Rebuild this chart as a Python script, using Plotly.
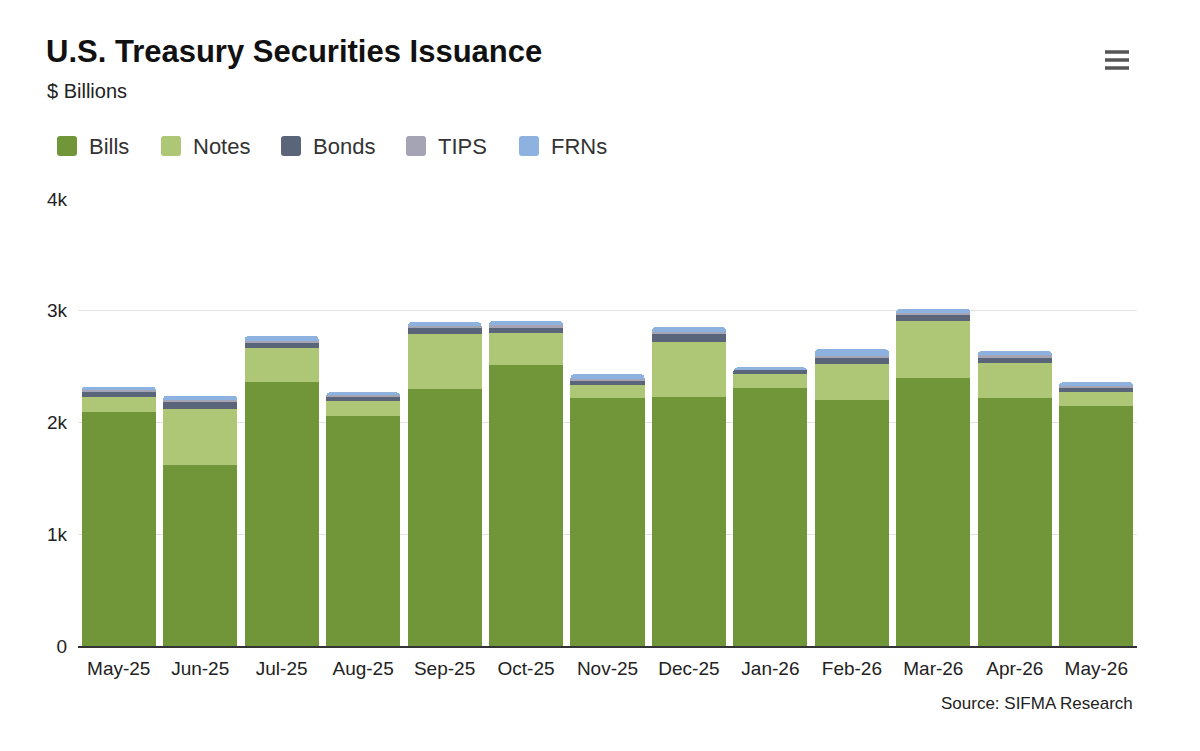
import plotly.graph_objects as go

months = ['May-25', 'Jun-25', 'Jul-25', 'Aug-25', 'Sep-25', 'Oct-25', 'Nov-25',
          'Dec-25', 'Jan-26', 'Feb-26', 'Mar-26', 'Apr-26', 'May-26']

# $ billions
bills = [2097, 1620, 2362, 2058, 2297, 2512, 2216, 2228, 2306, 2201, 2401, 2216, 2150]
notes = [134, 501, 307, 134, 492, 292, 119, 492, 125, 322, 507, 319, 123]
bonds = [45, 60, 39, 39, 59, 45, 36, 69, 39, 51, 54, 45, 33]
tips = [15, 19, 20, 14, 16, 20, 20, 20, 8, 21, 18, 20, 18]
frns = [30, 40, 45, 25, 32, 40, 40, 45, 16, 60, 36, 40, 36]

names = ['Bills', 'Notes', 'Bonds', 'TIPS', 'FRNs']
colors = ['#719639', '#adc776', '#5a6579', '#a4a4b5', '#8db2e0']
values = [bills, notes, bonds, tips, frns]

fig = go.Figure()
for name, vals, col in zip(names, values, colors):
    fig.add_trace(go.Bar(x=months, y=vals, name=name, showlegend=False,
                         marker=dict(color=col, line=dict(width=0))))

font = 'Liberation Sans, Arial, sans-serif'

# page has an 8px body margin, so the figure is 16px smaller than the window
W, H = 1184, 735
L, R, T, B = 70, 55, 191, 97
pw, ph = W - L - R, H - T - B


def px(x):  # window x -> paper x
    return (x - 8 - L) / pw


def py(y):  # window y -> paper y
    return (H - B - (y - 8)) / ph


annotations = [
    dict(text='<b>U.S. Treasury Securities Issuance</b>', x=px(44), y=py(51),
         font=dict(size=31, color='#111111')),
    dict(text='$ Billions', x=px(45), y=py(91), font=dict(size=20, color='#222222')),
]

shapes = []
# legend: rounded squares + labels
leg_x = [57, 161, 281, 406, 519]
rounded = ('M -7,-10 L 7,-10 Q 10,-10 10,-7 L 10,7 Q 10,10 7,10 L -7,10 '
           'Q -10,10 -10,7 L -10,-7 Q -10,-10 -7,-10 Z')
for name, col, lx in zip(names, colors, leg_x):
    shapes.append(dict(type='path', path=rounded, xref='paper', yref='paper',
                       xsizemode='pixel', ysizemode='pixel', xanchor=px(lx + 10), yanchor=py(146),
                       fillcolor=col, line=dict(width=0)))
    annotations.append(dict(text=name, x=px(lx + 30), y=py(146),
                            font=dict(size=22, color='#333333')))

for a in annotations:
    a.update(xref='paper', yref='paper', xanchor='left', yanchor='middle', showarrow=False)

annotations.append(dict(text='Source: SIFMA Research', xref='paper', yref='paper', x=px(1135),
                        y=py(703), xanchor='right', yanchor='middle', showarrow=False,
                        font=dict(size=17, color='#222222')))

# hamburger menu icon
for yy in [52, 60, 68]:
    shapes.append(dict(type='line', xref='paper', yref='paper', x0=px(1105), x1=px(1129),
                       y0=py(yy), y1=py(yy), line=dict(color='#555555', width=3.5)))

fig.update_layout(
    barmode='stack', bargap=0.09, barcornerradius=4,
    width=W, height=H,
    paper_bgcolor='white', plot_bgcolor='white',
    margin=dict(l=L, r=R, t=T, b=B),
    font=dict(family=font, color='#333333'),
    xaxis=dict(tickfont=dict(size=19, color='#222222'), showgrid=False,
               showline=True, linecolor='#333333', linewidth=1.5, ticks='',
               ticklabelstandoff=4),
    yaxis=dict(range=[0, 4000], tickvals=[0, 1000, 2000, 3000, 4000],
               ticktext=['0', '1k', '2k', '3k', '4k'], tickfont=dict(size=19, color='#222222'),
               gridcolor='#e3e3e3', zeroline=False, ticks='', ticklabelstandoff=10),
    annotations=annotations,
    shapes=shapes,
)

fig.write_html('out.html')
